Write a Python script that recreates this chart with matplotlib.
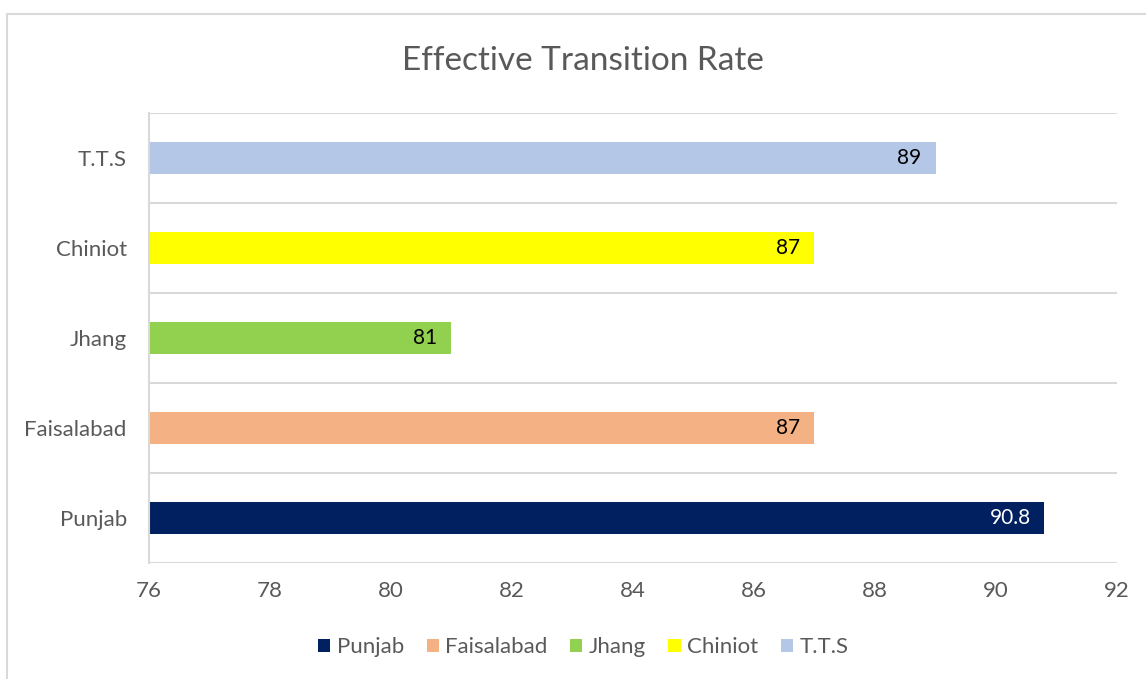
import matplotlib.pyplot as plt
from matplotlib.patches import Rectangle

plt.rcParams['font.family'] = ['Lato', 'DejaVu Sans']

# regions and their effective transition rate
regions = ['Punjab', 'Faisalabad', 'Jhang', 'Chiniot', 'T.T.S']
rates = [90.8, 87, 81, 87, 89]
value_labels = ['90.8', '87', '81', '87', '89']
bar_colors = ['#002060', '#F4B183', '#92D050', '#FFFF00', '#B4C7E7']
label_colors = ['white', 'black', 'black', 'black', 'black']

x_ticks = [76, 78, 80, 82, 84, 86, 88, 90, 92]

grey_text = '#595959'
grid_col = '#D9D9D9'

fig = plt.figure(figsize=(11.46, 6.79), dpi=100)
ax = fig.add_axes([0.130, 0.1708, 0.8447, 0.6627])

# outer chart frame
fig.patches.append(Rectangle((7 / 1146, -0.1), 1.2, 1 - 14 / 679 + 0.1,
                             transform=fig.transFigure, fill=False,
                             edgecolor=grid_col, linewidth=1.5))

for i, (name, val) in enumerate(zip(regions, rates)):
    ax.barh(i, val - 76, left=76, height=0.355, color=bar_colors[i], label=name)
    ax.annotate(value_labels[i], xy=(val, i), xytext=(-10, 0),
                textcoords='offset points', ha='right', va='center',
                fontsize=15, color=label_colors[i])

ax.set_xlim(76, 92)
ax.set_ylim(-0.5, len(regions) - 0.5)
ax.set_xticks(x_ticks)
ax.set_yticks(range(len(regions)))
ax.set_yticklabels(regions)

# horizontal lines between categories
for b in [i - 0.5 for i in range(len(regions) + 1)]:
    ax.axhline(b, color=grid_col, linewidth=1.5, zorder=0)

for s in ['top', 'right', 'bottom']:
    ax.spines[s].set_visible(False)
ax.spines['left'].set_color(grid_col)
ax.spines['left'].set_linewidth(1.5)

ax.tick_params(axis='both', length=0, labelsize=16, labelcolor=grey_text)
ax.tick_params(axis='y', pad=16)
ax.tick_params(axis='x', pad=13)

fig.text(0.509, 0.910, 'Effective Transition Rate', ha='center', va='center',
         fontsize=24, color=grey_text)

fig.legend(loc='center', bbox_to_anchor=(0.509, 0.047), ncol=5, frameon=False,
           fontsize=16, handlelength=0.55, handleheight=0.55, handletextpad=0.3,
           columnspacing=1.0, labelcolor=grey_text)

fig.savefig('out.png', dpi=100)
